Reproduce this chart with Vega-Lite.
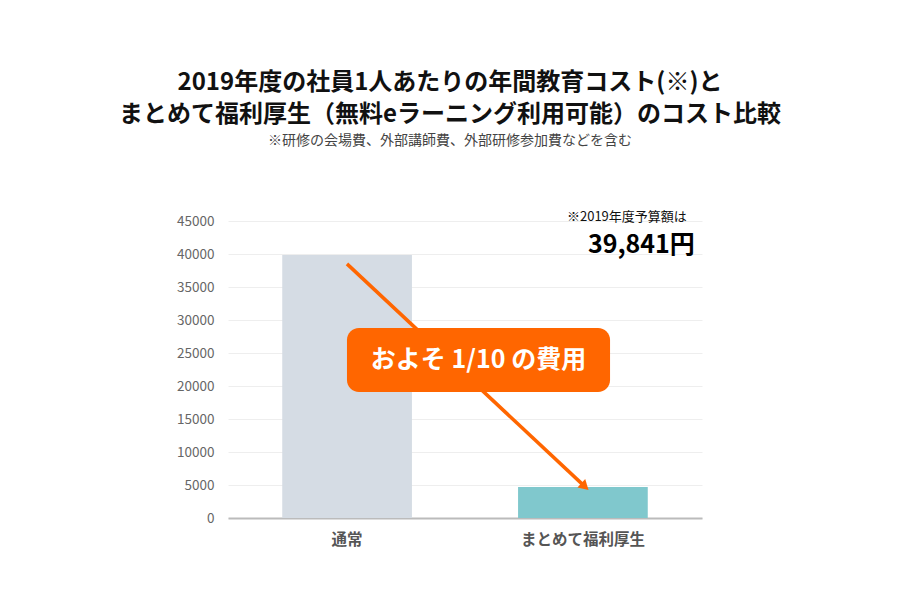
{
  "$schema": "https://vega.github.io/schema/vega-lite/v6.json",
  "width": 474,
  "height": 297,
  "autosize": {"type": "none"},
  "padding": {"left": 228, "top": 221, "right": 198, "bottom": 82},
  "background": "white",
  "config": {
    "view": {"stroke": null},
    "font": "Noto Sans CJK JP"
  },
  "title": {
    "text": ["2019年度の社員1人あたりの年間教育コスト(※)と", "まとめて福利厚生（無料eラーニング利用可能）のコスト比較"],
    "subtitle": "※研修の会場費、外部講師費、外部研修参加費などを含む",
    "anchor": "middle",
    "dx": -15,
    "offset": 63,
    "font": "Noto Sans CJK JP",
    "fontSize": 24,
    "fontWeight": "bold",
    "color": "#111111",
    "lineHeight": 32,
    "subtitleFont": "Noto Sans CJK JP",
    "subtitleFontSize": 14,
    "subtitleColor": "#444444",
    "subtitlePadding": 7
  },
  "datasets": {
    "bars": [
      {"category": "通常", "cost": 39841},
      {"category": "まとめて福利厚生", "cost": 4700}
    ],
    "arrow": [
      {"x1": 0.251, "y1": 38500, "x2": 0.753, "y2": 4750}
    ],
    "head": [
      {"x": 0.753, "y": 4750}
    ],
    "box": [
      {"x1": 0.251, "x2": 0.806, "y1": 19100, "y2": 28800, "xt": 0.5285, "yt": 23950, "label": "およそ 1/10 の費用"}
    ],
    "note": [
      {"x": 0.968, "y": 45600, "label": "※2019年度予算額は"}
    ],
    "budget": [
      {"x": 0.985, "y": 41350, "label": "39,841円"}
    ]
  },
  "layer": [
    {
      "data": {"name": "bars"},
      "mark": {"type": "bar"},
      "encoding": {
        "x": {
          "field": "category",
          "type": "nominal",
          "sort": null,
          "scale": {"paddingInner": 0.45, "paddingOuter": 0.23},
          "axis": {
            "title": null,
            "labelAngle": 0,
            "ticks": false,
            "domainColor": "#bbbbbb",
            "domainWidth": 2,
            "labelFont": "Noto Sans CJK JP",
            "labelFontSize": 15.5,
            "labelFontWeight": "bold",
            "labelColor": "#555555",
            "labelPadding": 14
          }
        },
        "y": {
          "field": "cost",
          "type": "quantitative",
          "scale": {"domain": [0, 45000]},
          "axis": {"title": null, "values": [0, 5000, 10000, 15000, 20000, 25000, 30000, 35000, 40000, 45000], "format": "d", "domain": false, "ticks": false, "gridColor": "#eeeeee", "labelFont": "Noto Sans CJK JP", "labelFontSize": 13.5, "labelColor": "#666666", "labelPadding": 14}
        },
        "color": {
          "field": "category",
          "type": "nominal",
          "scale": {"domain": ["通常", "まとめて福利厚生"], "range": ["#d5dce4", "#80c8cd"]},
          "legend": null
        }
      }
    },
    {
      "data": {"name": "arrow"},
      "mark": {"type": "rule", "color": "#ff6600", "strokeWidth": 3.5},
      "encoding": {
        "x": {"field": "x1", "type": "quantitative", "scale": {"domain": [0, 1]}, "axis": null},
        "x2": {"field": "x2"},
        "y": {"field": "y1", "type": "quantitative", "axis": {"title": null, "values": [0, 5000, 10000, 15000, 20000, 25000, 30000, 35000, 40000, 45000], "format": "d", "domain": false, "ticks": false, "gridColor": "#eeeeee", "labelFont": "Noto Sans CJK JP", "labelFontSize": 13.5, "labelColor": "#666666", "labelPadding": 14}},
        "y2": {"field": "y2"}
      }
    },
    {
      "data": {"name": "head"},
      "mark": {"type": "point", "shape": "triangle-up", "filled": true, "color": "#ff6600", "opacity": 1, "size": 130, "angle": 133},
      "encoding": {
        "x": {"field": "x", "type": "quantitative", "scale": {"domain": [0, 1]}, "axis": null},
        "y": {"field": "y", "type": "quantitative", "axis": {"title": null, "values": [0, 5000, 10000, 15000, 20000, 25000, 30000, 35000, 40000, 45000], "format": "d", "domain": false, "ticks": false, "gridColor": "#eeeeee", "labelFont": "Noto Sans CJK JP", "labelFontSize": 13.5, "labelColor": "#666666", "labelPadding": 14}}
      }
    },
    {
      "data": {"name": "box"},
      "mark": {"type": "rect", "color": "#ff6600", "cornerRadius": 12},
      "encoding": {
        "x": {"field": "x1", "type": "quantitative", "scale": {"domain": [0, 1]}, "axis": null},
        "x2": {"field": "x2"},
        "y": {"field": "y1", "type": "quantitative", "axis": {"title": null, "values": [0, 5000, 10000, 15000, 20000, 25000, 30000, 35000, 40000, 45000], "format": "d", "domain": false, "ticks": false, "gridColor": "#eeeeee", "labelFont": "Noto Sans CJK JP", "labelFontSize": 13.5, "labelColor": "#666666", "labelPadding": 14}},
        "y2": {"field": "y2"}
      }
    },
    {
      "data": {"name": "box"},
      "mark": {"type": "text", "color": "white", "fontSize": 25, "fontWeight": "bold", "font": "Noto Sans CJK JP", "align": "center", "baseline": "middle"},
      "encoding": {
        "x": {"field": "xt", "type": "quantitative", "scale": {"domain": [0, 1]}, "axis": null},
        "y": {"field": "yt", "type": "quantitative", "axis": {"title": null, "values": [0, 5000, 10000, 15000, 20000, 25000, 30000, 35000, 40000, 45000], "format": "d", "domain": false, "ticks": false, "gridColor": "#eeeeee", "labelFont": "Noto Sans CJK JP", "labelFontSize": 13.5, "labelColor": "#666666", "labelPadding": 14}},
        "text": {"field": "label"}
      }
    },
    {
      "data": {"name": "note"},
      "mark": {"type": "text", "color": "#111111", "fontSize": 13, "font": "Noto Sans CJK JP", "align": "right", "baseline": "middle"},
      "encoding": {
        "x": {"field": "x", "type": "quantitative", "scale": {"domain": [0, 1]}, "axis": null},
        "y": {"field": "y", "type": "quantitative", "axis": {"title": null, "values": [0, 5000, 10000, 15000, 20000, 25000, 30000, 35000, 40000, 45000], "format": "d", "domain": false, "ticks": false, "gridColor": "#eeeeee", "labelFont": "Noto Sans CJK JP", "labelFontSize": 13.5, "labelColor": "#666666", "labelPadding": 14}},
        "text": {"field": "label"}
      }
    },
    {
      "data": {"name": "budget"},
      "mark": {"type": "text", "color": "#000000", "fontSize": 25, "fontWeight": "bold", "font": "Noto Sans CJK JP", "align": "right", "baseline": "middle"},
      "encoding": {
        "x": {"field": "x", "type": "quantitative", "scale": {"domain": [0, 1]}, "axis": null},
        "y": {"field": "y", "type": "quantitative", "axis": {"title": null, "values": [0, 5000, 10000, 15000, 20000, 25000, 30000, 35000, 40000, 45000], "format": "d", "domain": false, "ticks": false, "gridColor": "#eeeeee", "labelFont": "Noto Sans CJK JP", "labelFontSize": 13.5, "labelColor": "#666666", "labelPadding": 14}},
        "text": {"field": "label"}
      }
    }
  ],
  "resolve": {"scale": {"x": "independent", "color": "independent"}}
}
